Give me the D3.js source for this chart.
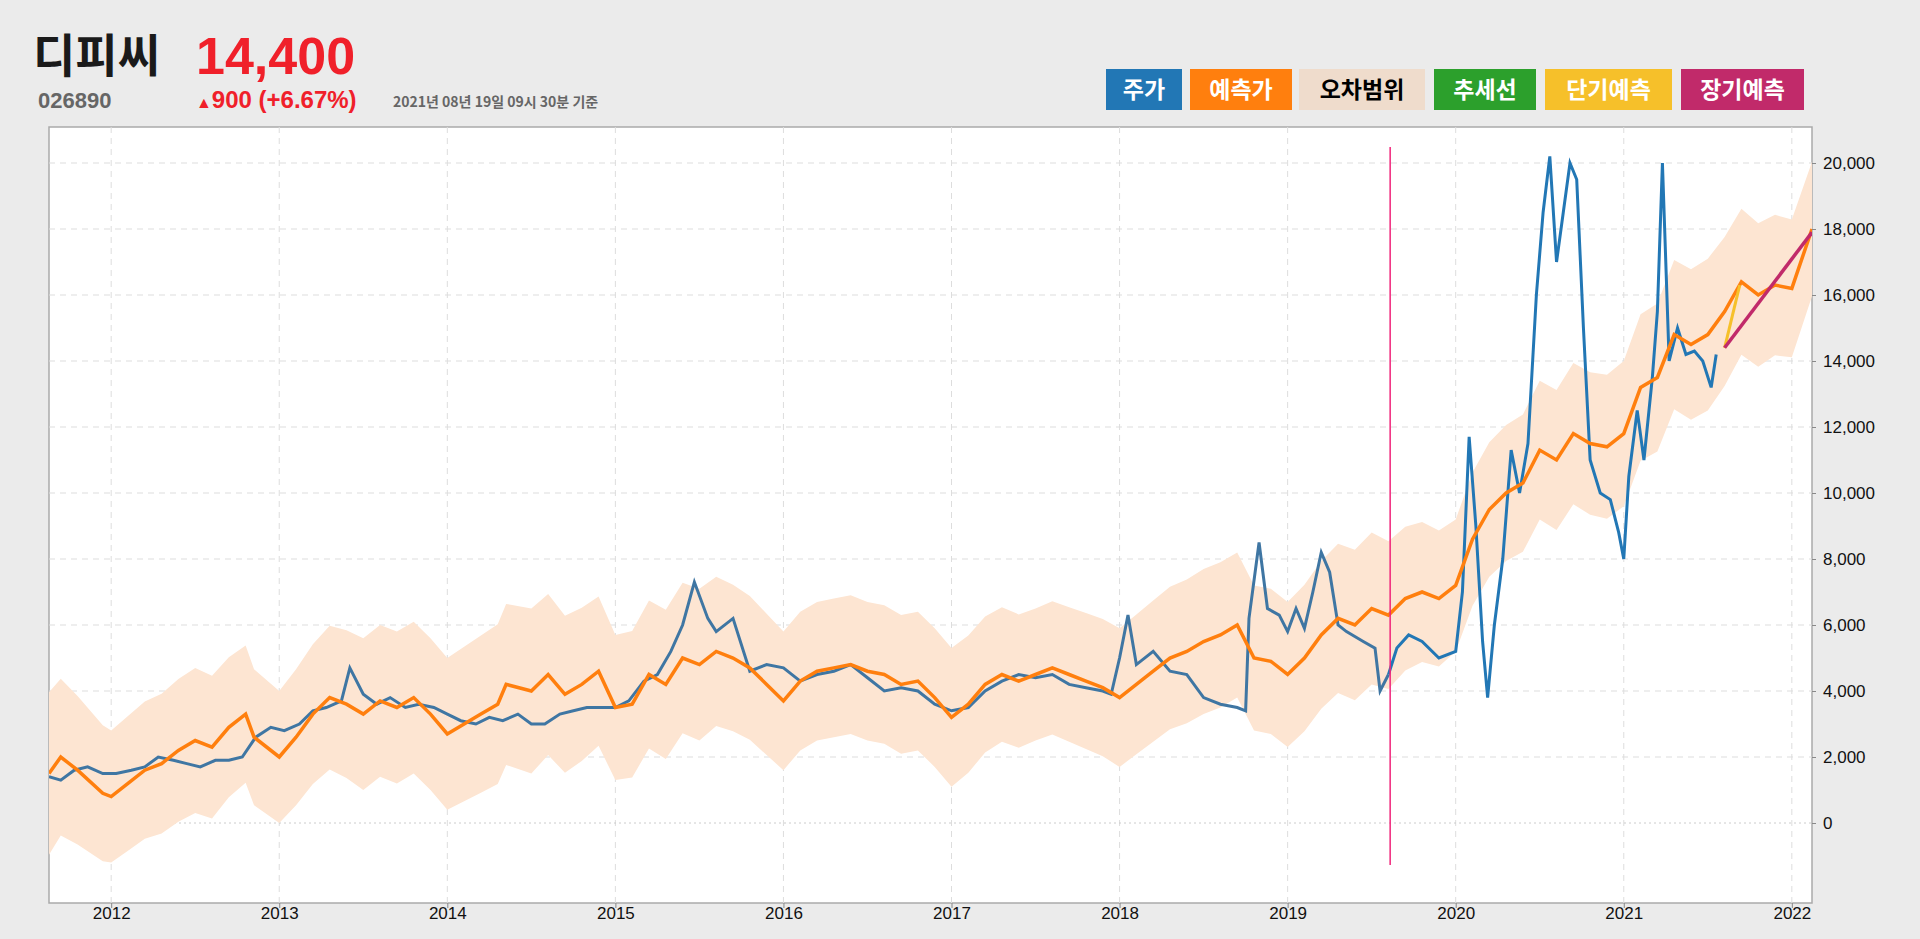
<!DOCTYPE html>
<html><head><meta charset="utf-8">
<script src="https://cdn.jsdelivr.net/npm/d3@7"></script>
<style>body{margin:0;background:#ebebeb;overflow:hidden}svg{display:block}</style>
</head><body><svg id="c" width="1920" height="939"></svg>
<script>
const priceDates=[2011.63,2011.7,2011.78,2011.86,2011.95,2012.03,2012.12,2012.2,2012.28,2012.37,2012.45,2012.53,2012.62,2012.7,2012.78,2012.86,2012.95,2013.03,2013.12,2013.2,2013.28,2013.37,2013.42,2013.5,2013.58,2013.66,2013.75,2013.83,2013.92,2014.0,2014.08,2014.17,2014.25,2014.33,2014.42,2014.5,2014.58,2014.67,2014.75,2014.83,2014.92,2015.0,2015.08,2015.17,2015.25,2015.33,2015.4,2015.47,2015.55,2015.6,2015.7,2015.8,2015.9,2016.0,2016.1,2016.2,2016.3,2016.4,2016.5,2016.6,2016.7,2016.8,2016.9,2017.0,2017.1,2017.2,2017.3,2017.4,2017.5,2017.6,2017.7,2017.8,2017.9,2017.95,2018.0,2018.05,2018.1,2018.2,2018.3,2018.4,2018.5,2018.6,2018.7,2018.75,2018.77,2018.83,2018.88,2018.95,2019.0,2019.05,2019.1,2019.15,2019.2,2019.25,2019.3,2019.35,2019.45,2019.52,2019.55,2019.6,2019.65,2019.72,2019.8,2019.9,2020.0,2020.04,2020.08,2020.12,2020.16,2020.19,2020.23,2020.28,2020.33,2020.38,2020.43,2020.48,2020.52,2020.56,2020.6,2020.64,2020.68,2020.72,2020.76,2020.8,2020.86,2020.92,2020.97,2021.0,2021.03,2021.08,2021.12,2021.17,2021.2,2021.23,2021.27,2021.32,2021.37,2021.42,2021.47,2021.52,2021.55,2021.6];
const priceValues=[1400,1300,1600,1700,1500,1500,1600,1700,2000,1900,1800,1700,1900,1900,2000,2600,2900,2800,3000,3400,3500,3700,4700,3900,3600,3800,3500,3600,3500,3300,3100,3000,3200,3100,3300,3000,3000,3300,3400,3500,3500,3500,3700,4300,4500,5200,6000,7300,6200,5800,6200,4600,4800,4700,4300,4500,4600,4800,4400,4000,4100,4000,3600,3400,3500,4000,4300,4500,4400,4500,4200,4100,4000,3900,5000,6300,4800,5200,4600,4500,3800,3600,3500,3400,6200,8500,6500,6300,5800,6500,5900,7000,8200,7600,6000,5800,5500,5300,4000,4500,5300,5700,5500,5000,5200,7000,11700,9000,5500,3800,6000,8000,11300,10000,11500,16000,18500,20200,17000,18500,20000,19500,15000,11000,10000,9800,8800,8000,10500,12500,11000,13500,15500,20000,14000,15000,14200,14300,14000,13200,14200];
const predDates=[2011.63,2011.7,2011.8,2011.95,2012.0,2012.1,2012.2,2012.3,2012.4,2012.5,2012.6,2012.7,2012.8,2012.85,2013.0,2013.1,2013.2,2013.3,2013.4,2013.5,2013.6,2013.7,2013.8,2013.9,2014.0,2014.1,2014.2,2014.3,2014.35,2014.5,2014.6,2014.7,2014.8,2014.9,2015.0,2015.1,2015.2,2015.3,2015.4,2015.5,2015.6,2015.7,2015.8,2015.9,2016.0,2016.1,2016.2,2016.3,2016.4,2016.5,2016.6,2016.7,2016.8,2016.9,2017.0,2017.1,2017.2,2017.3,2017.4,2017.5,2017.6,2017.7,2017.8,2017.9,2018.0,2018.1,2018.2,2018.3,2018.4,2018.5,2018.6,2018.7,2018.8,2018.9,2019.0,2019.1,2019.2,2019.3,2019.4,2019.5,2019.6,2019.7,2019.8,2019.9,2020.0,2020.1,2020.2,2020.3,2020.4,2020.5,2020.6,2020.7,2020.8,2020.9,2021.0,2021.1,2021.2,2021.3,2021.4,2021.5,2021.6,2021.7,2021.8,2021.9,2022.0,2022.12];
const predValues=[1500,2000,1600,900,800,1200,1600,1800,2200,2500,2300,2900,3300,2600,2000,2600,3300,3800,3600,3300,3700,3500,3800,3300,2700,3000,3300,3600,4200,4000,4500,3900,4200,4600,3500,3600,4500,4200,5000,4800,5200,5000,4700,4200,3700,4300,4600,4700,4800,4600,4500,4200,4300,3800,3200,3600,4200,4500,4300,4500,4700,4500,4300,4100,3800,4200,4600,5000,5200,5500,5700,6000,5000,4900,4500,5000,5700,6200,6000,6500,6300,6800,7000,6800,7200,8600,9500,10000,10300,11300,11000,11800,11500,11400,11800,13200,13500,14800,14500,14800,15500,16400,16000,16300,16200,18000];
const bandDates=[2011.6,2012.0,2012.5,2013.0,2013.5,2014.0,2014.5,2015.0,2015.5,2016.0,2016.5,2017.0,2017.5,2018.0,2018.5,2019.0,2019.5,2020.0,2020.5,2021.0,2021.5,2022.2];
const bandHalf=[2500,2000,2200,2000,2300,2300,2500,2200,2300,2100,2100,2100,2000,2100,2200,2200,2300,2000,2100,2200,2300,2000];
const shortDates=[2021.6,2021.69], shortValues=[14400,16300];
const longDates=[2021.6,2022.12], longValues=[14400,17900];
const xTicks=[2012,2013,2014,2015,2016,2017,2018,2019,2020,2021,2022];
const yTicks=[0,2000,4000,6000,8000,10000,12000,14000,16000,18000,20000];
const legendItems=[["주가","#2277b5","#fff"],["예측가","#ff7f0e","#fff"],["오차범위","#efdccc","#000"],["추세선","#2ca02c","#fff"],["단기예측","#f6c02a","#fff"],["장기예측","#c12a6a","#fff"]];
const cutDate=2019.61;

const svg=d3.select("#c");
const L=49,R=1812,T=127,B=903;
const x=d3.scaleLinear().domain([2011.63,2022.12]).range([L,R]);
const y=d3.scaleLinear().domain([0,20000]).range([823,163]);
svg.append("rect").attr("x",L).attr("y",T).attr("width",R-L).attr("height",B-T).attr("fill","#fff").attr("stroke","#aaa").attr("stroke-width",1.5);
const g=svg.append("g");
g.selectAll(".vg").data(xTicks).join("line").attr("x1",d=>x(d)).attr("x2",d=>x(d)).attr("y1",T).attr("y2",B).attr("stroke","#ddd").attr("stroke-dasharray","6,5");
g.selectAll(".hg").data(yTicks).join("line").attr("x1",L).attr("x2",R).attr("y1",d=>y(d)).attr("y2",d=>y(d)).attr("stroke",d=>d===0?"#ccc":"#ddd").attr("stroke-dasharray",d=>d===0?"2,3":"6,5");
svg.append("clipPath").attr("id","cp").append("rect").attr("x",L).attr("y",T).attr("width",R-L).attr("height",B-T);
const pc=svg.append("g").attr("clip-path","url(#cp)");
const half=d3.scaleLinear().domain(bandDates).range(bandHalf);
const pred=predDates.map((d,i)=>[d,predValues[i]]);
pc.append("path").datum(pred).attr("fill","#fde5d2").attr("d",d3.area().x(d=>x(d[0])).y0(d=>y(d[1]-half(d[0]))).y1(d=>y(d[1]+half(d[0]))));
const line=d3.line().x(d=>x(d[0])).y(d=>y(d[1]));
const price=priceDates.map((d,i)=>[d,priceValues[i]]);
pc.append("path").datum(price.filter(d=>d[0]<=cutDate+0.01)).attr("fill","none").attr("stroke","#3f76a3").attr("stroke-width",3).attr("d",line);
pc.append("path").datum(price.filter(d=>d[0]>=cutDate-0.01)).attr("fill","none").attr("stroke","#2277b5").attr("stroke-width",3).attr("d",line);
pc.append("path").datum(pred).attr("fill","none").attr("stroke","#ff7f0e").attr("stroke-width",3.5).attr("d",line);
pc.append("path").datum(shortDates.map((d,i)=>[d,shortValues[i]])).attr("fill","none").attr("stroke","#f6c02a").attr("stroke-width",3).attr("d",line);
pc.append("path").datum(longDates.map((d,i)=>[d,longValues[i]])).attr("fill","none").attr("stroke","#c12a6a").attr("stroke-width",3.5).attr("d",line);
svg.append("line").attr("x1",x(cutDate)).attr("x2",x(cutDate)).attr("y1",147).attr("y2",865).attr("stroke","#f0247a").attr("stroke-width",1.5);
svg.append("g").attr("transform",`translate(${R},0)`).call(d3.axisRight(y).tickValues(yTicks).tickFormat(d3.format(",")).tickSize(4))
 .call(a=>{a.select(".domain").remove();a.selectAll("text").attr("font-family","Liberation Sans, Arial").attr("font-size",17).attr("fill","#111").attr("dx",4);a.selectAll("line").attr("stroke","#888");});
svg.append("g").attr("transform",`translate(0,${B})`).call(d3.axisBottom(x).tickValues(xTicks).tickFormat(d3.format("d")).tickSize(5))
 .call(a=>{a.select(".domain").remove();a.selectAll("text").attr("font-family","Liberation Sans, Arial").attr("font-size",17).attr("fill","#111").attr("dy",8);a.selectAll("line").attr("stroke","#888");});
const K="'Noto Sans CJK KR', sans-serif";
svg.append("text").attr("x",33).attr("y",72).text("디피씨").attr("font-family",K).attr("font-weight",700).attr("font-size",46).attr("fill","#1a1a1a");
svg.append("text").attr("x",196).attr("y",74).text("14,400").attr("font-family","Liberation Sans, Arial").attr("font-weight",700).attr("font-size",52).attr("fill","#f0202a");
svg.append("text").attr("x",38).attr("y",108).text("026890").attr("font-family","Liberation Sans, Arial").attr("font-weight",700).attr("font-size",22).attr("fill","#666");
const ch=svg.append("text").attr("x",196).attr("y",108).attr("font-family","Liberation Sans, Arial").attr("font-weight",700).attr("fill","#f0202a");
ch.append("tspan").attr("font-size",16).text("▲");
ch.append("tspan").attr("font-size",24).text("900 (+6.67%)");
svg.append("text").attr("x",393).attr("y",107).text("2021년 08년 19일 09시 30분 기준").attr("font-family",K).attr("font-weight",700).attr("font-size",14).attr("fill","#666");
const lx=[1106,1190,1299,1434,1545,1681], lw=[76,102,126,102,127,123];
const lg=svg.append("g");
legendItems.forEach((it,i)=>{
 lg.append("rect").attr("x",lx[i]).attr("y",69).attr("width",lw[i]).attr("height",41).attr("fill",it[1]);
 lg.append("text").attr("x",lx[i]+lw[i]/2).attr("y",98).attr("text-anchor","middle").text(it[0]).attr("font-family",K).attr("font-weight",700).attr("font-size",23).attr("fill",it[2]);
});
</script></body></html>
